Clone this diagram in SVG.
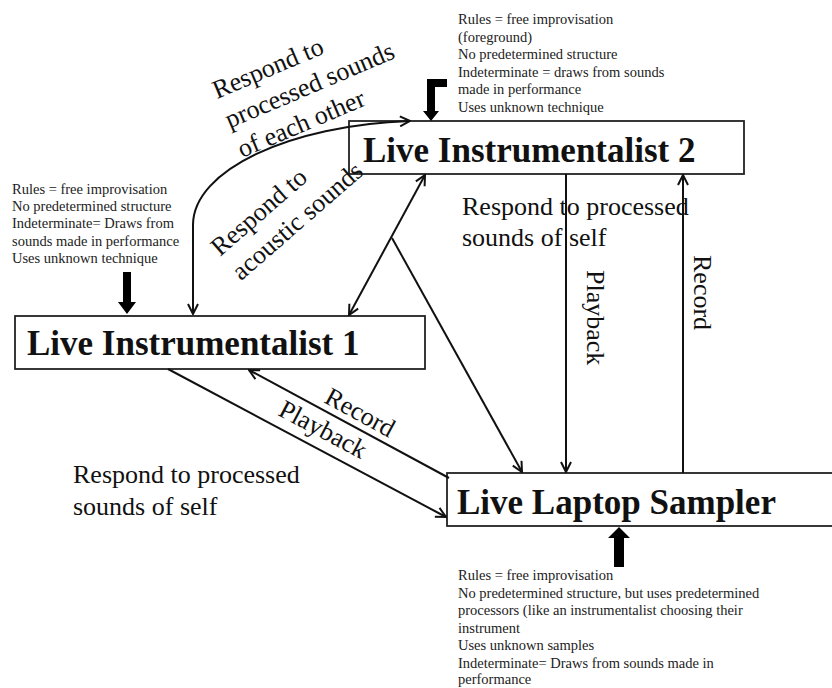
<svg xmlns="http://www.w3.org/2000/svg" width="832" height="688" viewBox="0 0 832 688">
<defs>
<marker id="ah" viewBox="0 0 12 12" refX="11" refY="6" markerWidth="12" markerHeight="12" markerUnits="userSpaceOnUse" orient="auto-start-reverse">
<path d="M1,1 L11,6 L1,11" fill="none" stroke="#111" stroke-width="2"/>
</marker>
<style>
.box{fill:#fff;stroke:#222;stroke-width:1.8}
.title{font-family:"Liberation Serif","Times New Roman",serif;font-weight:bold;font-size:35px;fill:#111}
.lbl{font-family:"Liberation Serif","Times New Roman",serif;font-size:26px;fill:#111}
.note{font-family:"Liberation Serif","Times New Roman",serif;font-size:14.5px;fill:#222}
.con{fill:none;stroke:#111;stroke-width:2}
.thick{fill:#000}
</style>
</defs>
<rect width="832" height="688" fill="#fff"/>

<g id="node-instrumentalist2">
<rect class="box" x="349" y="121" width="395" height="53"/>
<text class="title" x="363" y="162">Live Instrumentalist 2</text>
</g>
<g id="node-instrumentalist1">
<rect class="box" x="15" y="316" width="410" height="53"/>
<text class="title" x="27" y="355">Live Instrumentalist 1</text>
</g>
<g id="node-laptop">
<rect class="box" x="447" y="473" width="392" height="53"/>
<text class="title" x="457" y="514">Live Laptop Sampler</text>
</g>

<g id="connectors">
<path class="con" d="M193,314 L193,225 C193,170 290,125 410,121" marker-start="url(#ah)" marker-end="url(#ah)"/>
<line class="con" x1="349" y1="315" x2="425" y2="175" marker-start="url(#ah)" marker-end="url(#ah)"/>
<line class="con" x1="392" y1="238" x2="522" y2="472" marker-end="url(#ah)"/>
<line class="con" x1="566" y1="174" x2="566" y2="472" marker-end="url(#ah)"/>
<line class="con" x1="683" y1="473" x2="683" y2="175" marker-end="url(#ah)"/>
<line class="con" x1="449" y1="478" x2="249" y2="370" marker-end="url(#ah)"/>
<line class="con" x1="168" y1="369" x2="446" y2="517" marker-end="url(#ah)"/>
</g>

<g id="thick-arrows">
<path class="thick" d="M427,79 L447,79 L447,87 L435,87 L435,111 L439,111 L431,121 L423,111 L427,111 Z"/>
<path class="thick" d="M123,272 L131,272 L131,302 L136,302 L127,314 L118,302 L123,302 Z"/>
<path class="thick" d="M614,567 L624,567 L624,538 L630,538 L619,527 L608,538 L614,538 Z"/>
</g>

<g id="labels">
<g transform="translate(217,99) rotate(-23)">
<text class="lbl" x="0" y="0">Respond to</text>
<text class="lbl" x="0" y="32">processed sounds</text>
<text class="lbl" x="0" y="64">of each other</text>
</g>
<g transform="translate(220,257) rotate(-41)">
<text class="lbl" x="0" y="0">Respond to</text>
<text class="lbl" x="0" y="32">acoustic sounds</text>
</g>
<text class="lbl" x="462" y="215">Respond to processed</text>
<text class="lbl" x="462" y="246">sounds of self</text>
<text class="lbl" x="73" y="483">Respond to processed</text>
<text class="lbl" x="73" y="515">sounds of self</text>
<text class="lbl" transform="translate(587,270) rotate(90)">Playback</text>
<text class="lbl" transform="translate(694,255) rotate(90)">Record</text>
<text class="lbl" text-anchor="middle" transform="translate(356,420) rotate(28.5)">Record</text>
<text class="lbl" text-anchor="middle" transform="translate(319,437) rotate(28)">Playback</text>
</g>

<g id="note-instrumentalist2">
<text class="note" x="458" y="24">Rules = free improvisation</text>
<text class="note" x="458" y="41.5">(foreground)</text>
<text class="note" x="458" y="59">No predetermined structure</text>
<text class="note" x="458" y="76.5">Indeterminate = draws from sounds</text>
<text class="note" x="458" y="94">made in performance</text>
<text class="note" x="458" y="111.5">Uses unknown technique</text>
</g>
<g id="note-instrumentalist1">
<text class="note" x="12" y="194">Rules = free improvisation</text>
<text class="note" x="12" y="211">No predetermined structure</text>
<text class="note" x="12" y="228">Indeterminate= Draws from</text>
<text class="note" x="12" y="245.5">sounds made in performance</text>
<text class="note" x="12" y="263">Uses unknown technique</text>
</g>
<g id="note-laptop">
<text class="note" x="458" y="580">Rules = free improvisation</text>
<text class="note" x="458" y="597.5">No predetermined structure, but uses predetermined</text>
<text class="note" x="458" y="615">processors (like an instrumentalist choosing their</text>
<text class="note" x="458" y="632.5">instrument</text>
<text class="note" x="458" y="650">Uses unknown samples</text>
<text class="note" x="458" y="667.5">Indeterminate= Draws from sounds made in</text>
<text class="note" x="458" y="684">performance</text>
</g>
</svg>
